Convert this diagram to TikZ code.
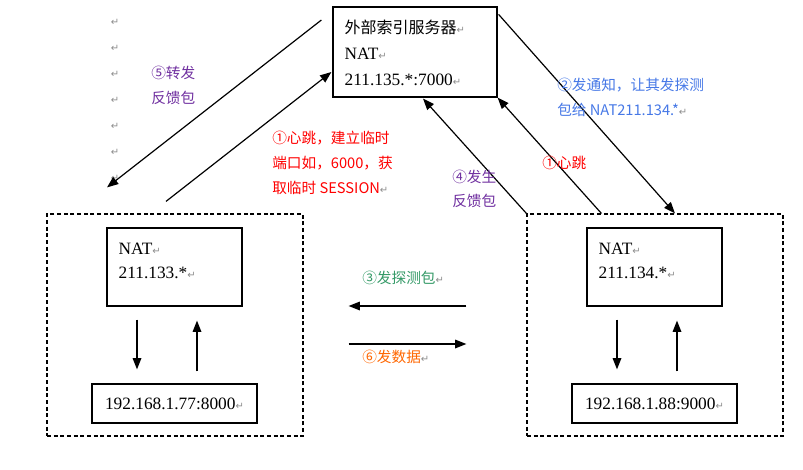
\documentclass[tikz,border=0pt]{standalone}
\usepackage{fontspec}
\setmainfont{Liberation Serif}
\newfontfamily\cjk{Noto Sans CJK SC}
\newfontfamily\dvs{DejaVu Sans}
\usetikzlibrary{arrows.meta}

\definecolor{hbred}{RGB}{255,0,0}
\definecolor{fbpurple}{RGB}{112,48,160}
\definecolor{tzblue}{RGB}{70,120,230}
\definecolor{tcgreen}{RGB}{51,153,102}
\definecolor{sjorange}{RGB}{255,102,0}
\newcommand{\pmk}{{\dvs\color{black!45}\fontsize{7.5}{7.5}\selectfont ↵}}

\begin{document}
\begin{tikzpicture}[x=0.75pt,y=-0.75pt,
    box/.style={draw, line width=0.9pt, inner sep=0pt},
    zone/.style={draw, line width=0.9pt, dash pattern=on 3pt off 2pt, inner sep=0pt},
    arr/.style={-{Triangle[length=8.5pt,width=6.5pt]}, line width=0.9pt},
    txt/.style={font=\fontsize{13}{18.5}\selectfont, align=left, inner sep=0pt, anchor=north west},
    lbl/.style={font=\cjk\fontsize{11}{18.75}\selectfont, align=left, inner sep=0pt, anchor=north west}]
    \useasboundingbox (0,0) rectangle (803,469);

    % boxes
    \node[box, minimum width=123pt, minimum height=67.5pt] (srv) at (415,52) {};
    \node[zone, minimum width=192pt, minimum height=166.5pt] (lz) at (175,325) {};
    \node[zone, minimum width=192pt, minimum height=166.5pt] (rz) at (655,325) {};
    \node[box, minimum width=101.25pt, minimum height=58.5pt] (lnat) at (174.5,267) {};
    \node[box, minimum width=101.25pt, minimum height=58.5pt] (rnat) at (654.5,267) {};
    \node[box, minimum width=123.75pt, minimum height=29.25pt, font=\fontsize{13}{14}\selectfont] (lip) at (174.5,403.5) {192.168.1.77:8000\pmk};
    \node[box, minimum width=123.75pt, minimum height=29.25pt, font=\fontsize{13}{14}\selectfont] (rip) at (654.5,403.5) {192.168.1.88:9000\pmk};

    \node[txt, font=\fontsize{13}{19.5}\selectfont] (srvtxt) at ([shift={(12,13)}]srv.north west) {{\cjk\fontsize{12}{19.5}\selectfont 外部索引服务器}\pmk\\NAT\pmk\\211.135.*:7000\pmk};
    \node[txt] (lnattxt) at ([shift={(12,15)}]lnat.north west) {NAT\pmk\\211.133.*\pmk};
    \node[txt] (rnattxt) at ([shift={(12,15)}]rnat.north west) {NAT\pmk\\211.134.*\pmk};

    % paragraph marks on the left
    \foreach \y in {22,48,74,100,126,152,178}
        \node[inner sep=0pt] at (115,\y) {\pmk};

    % connectors
    \coordinate (a1) at ([shift={(-11,-32)}]srv.west);
    \coordinate (a2) at ([shift={(-68,-26)}]lz.north);
    \coordinate (b1) at ([shift={(-9,-12)}]lz.north);
    \coordinate (b2) at ([shift={(-1,20)}]srv.west);
    \coordinate (c2) at ([shift={(8,1)}]srv.south);
    \coordinate (d1) at ([shift={(75,0)}]rz.north west);
    \coordinate (e1) at ([shift={(1,8)}]srv.north east);
    \coordinate (e2) at ([shift={(20,0)}]rz.north);

    \draw[arr] (a1) -- (a2);
    \draw[arr] (b1) -- (b2);
    \draw[arr] (rz.north west) -- (c2);
    \draw[arr] (d1) -- (srv.south east);
    \draw[arr] (e1) -- (e2);

    \draw[arr] ([shift={(-37.5,13)}]lnat.south) -- ([shift={(-37.5,-14)}]lip.north);
    \draw[arr] ([shift={(22.5,-12)}]lip.north) -- ([shift={(22.5,14)}]lnat.south);
    \draw[arr] ([shift={(-37.5,13)}]rnat.south) -- ([shift={(-37.5,-14)}]rip.north);
    \draw[arr] ([shift={(22.5,-12)}]rip.north) -- ([shift={(22.5,14)}]rnat.south);

    \draw[arr] ([shift={(-60,-19)}]rz.west) -- ([shift={(45,-19)}]lz.east);
    \draw[arr] ([shift={(45,19)}]lz.east) -- ([shift={(-60,19)}]rz.west);

    % labels
    \node[lbl, text=fbpurple] (l5) at (151,66) {⑤转发\\反馈包};
    \node[lbl, text=hbred] (l1a) at (272,131) {①心跳，建立临时\\端口如，6000，获\\取临时 SESSION\pmk};
    \node[lbl, text=fbpurple, font=\cjk\fontsize{11}{17.5}\selectfont] (l4) at (452,170) {④发生\\反馈包};
    \node[lbl, text=hbred] (l1b) at (542,156) {①心跳};
    \node[lbl, text=tzblue] (l2) at (557,78) {②发通知，让其发探测\\包给 NAT211.134.*\pmk};
    \node[lbl, text=tcgreen] (l3) at (362,271) {③发探测包\pmk};
    \node[lbl, text=sjorange] (l6) at (362,350) {⑥发数据\pmk};
\end{tikzpicture}
\end{document}
